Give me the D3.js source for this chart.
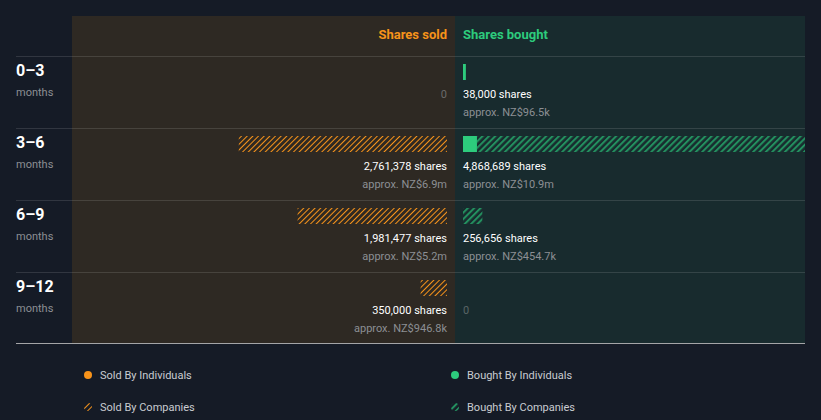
<!DOCTYPE html>
<html>
<head>
<meta charset="utf-8">
<script src="https://cdn.jsdelivr.net/npm/d3@7"></script>
<style>
  body { margin: 0; background: #151b26; }
  text { font-family: Roboto, "Noto Sans", sans-serif; }
</style>
</head>
<body>
<div id="chart"></div>
<script>
// insider trading data
var periods = ["0–3", "3–6", "6–9", "9–12"];
var soldIndividuals = [0, 0, 0, 0];
var soldCompanies = [0, 2761378, 1981477, 350000];
var boughtIndividuals = [38000, 185000, 0, 0];
var boughtCompanies = [0, 4683689, 256656, 0];
var soldValue = ["", "NZ$6.9m", "NZ$5.2m", "NZ$946.8k"];
var boughtValue = ["NZ$96.5k", "NZ$10.9m", "NZ$454.7k", ""];
var legendLabels = ["Sold By Individuals", "Bought By Individuals", "Sold By Companies", "Bought By Companies"];

var width = 821, height = 420;
var orange = "#f7931a", green = "#2dcb7d", greenHatch = "#23905f";

var svg = d3.select("#chart").append("svg")
    .attr("width", width)
    .attr("height", height);

var defs = svg.append("defs");
defs.append("pattern")
    .attr("id", "hatchOrange")
    .attr("patternUnits", "userSpaceOnUse")
    .attr("width", 4).attr("height", 4)
    .attr("patternTransform", "rotate(45)")
  .append("rect")
    .attr("width", 1).attr("height", 4)
    .attr("fill", orange);
defs.append("pattern")
    .attr("id", "hatchGreen")
    .attr("patternUnits", "userSpaceOnUse")
    .attr("width", 4.5).attr("height", 4.5)
    .attr("patternTransform", "rotate(45)")
  .append("rect")
    .attr("width", 2).attr("height", 4.5)
    .attr("fill", greenHatch);

var panelTop = 16, rowTop = 56, rowH = 72, panelBottom = 343;
var mid = 455, soldRight = 447, boughtLeft = 463, panelRight = 805;

defs.append("clipPath").attr("id", "clipBought")
  .append("rect")
    .attr("x", mid).attr("y", panelTop)
    .attr("width", panelRight - mid).attr("height", panelBottom - panelTop);

// panels
svg.append("rect").attr("x", 72).attr("y", panelTop)
    .attr("width", mid - 72).attr("height", panelBottom - panelTop)
    .attr("fill", "#2e2923");
svg.append("rect").attr("x", mid).attr("y", panelTop)
    .attr("width", panelRight - mid).attr("height", panelBottom - panelTop)
    .attr("fill", "#182b2e");

// header
svg.append("text").attr("x", soldRight).attr("y", 39)
    .attr("text-anchor", "end").attr("font-size", "13px").attr("font-weight", "bold")
    .attr("fill", orange).text("Shares sold");
svg.append("text").attr("x", boughtLeft).attr("y", 39)
    .attr("font-size", "13px").attr("font-weight", "bold")
    .attr("fill", green).text("Shares bought");

var x = d3.scaleLinear().domain([0, 5000000]).range([0, 377]);
var y = d3.scaleBand().domain(periods).range([rowTop, rowTop + rowH * periods.length]);
var fmt = d3.format(",");

// separators
periods.forEach(function(p) {
  svg.append("line")
    .attr("x1", 16).attr("x2", panelRight)
    .attr("y1", y(p) + 0.5).attr("y2", y(p) + 0.5)
    .attr("stroke", "#ffffff").attr("stroke-opacity", 0.12);
});
svg.append("line")
    .attr("x1", 16).attr("x2", panelRight)
    .attr("y1", panelBottom + 0.5).attr("y2", panelBottom + 0.5)
    .attr("stroke", "#c8c8c8").attr("stroke-opacity", 0.8);

var barsBought = svg.append("g").attr("clip-path", "url(#clipBought)");

var rows = svg.selectAll(".row")
  .data(periods)
  .enter().append("g")
    .attr("class", "row")
    .attr("transform", function(d) { return "translate(0," + y(d) + ")"; });

rows.append("text").attr("x", 16).attr("y", 20)
    .attr("font-size", "16px").attr("font-weight", "bold")
    .attr("fill", "#ffffff").text(function(d) { return d; });
rows.append("text").attr("x", 16).attr("y", 40)
    .attr("font-size", "11px").attr("fill", "#8c8f94").text("months");

rows.each(function(d, i) {
  var g = d3.select(this);
  var sInd = soldIndividuals[i], sCom = soldCompanies[i];
  var bInd = boughtIndividuals[i], bCom = boughtCompanies[i];
  var sTot = sInd + sCom, bTot = bInd + bCom;

  // sold side, growing leftwards
  if (sInd > 0) g.append("rect")
      .attr("x", soldRight - x(sInd)).attr("y", 8)
      .attr("width", x(sInd)).attr("height", 16).attr("fill", orange);
  if (sCom > 0) g.append("rect")
      .attr("x", soldRight - x(sInd) - x(sCom)).attr("y", 8)
      .attr("width", x(sCom)).attr("height", 16).attr("fill", "url(#hatchOrange)");

  if (sTot > 0) {
    g.append("text").attr("x", soldRight).attr("y", 42).attr("text-anchor", "end")
        .attr("font-size", "11px").attr("fill", "#ffffff").text(fmt(sTot) + " shares");
    g.append("text").attr("x", soldRight).attr("y", 60).attr("text-anchor", "end")
        .attr("font-size", "11px").attr("fill", "#8c8f94").text("approx. " + soldValue[i]);
  } else {
    g.append("text").attr("x", soldRight).attr("y", 42).attr("text-anchor", "end")
        .attr("font-size", "11px").attr("fill", "#6b6b6b").text("0");
  }

  // bought side, growing rightwards (clipped at panel edge)
  if (bInd > 0) barsBought.append("rect")
      .attr("x", boughtLeft).attr("y", y(d) + 8)
      .attr("width", Math.max(2, x(bInd))).attr("height", 16).attr("fill", green);
  if (bCom > 0) barsBought.append("rect")
      .attr("x", boughtLeft + x(bInd)).attr("y", y(d) + 8)
      .attr("width", x(bCom)).attr("height", 16).attr("fill", "url(#hatchGreen)");

  if (bTot > 0) {
    g.append("text").attr("x", boughtLeft).attr("y", 42)
        .attr("font-size", "11px").attr("fill", "#ffffff").text(fmt(bTot) + " shares");
    g.append("text").attr("x", boughtLeft).attr("y", 60)
        .attr("font-size", "11px").attr("fill", "#8c8f94").text("approx. " + boughtValue[i]);
  } else {
    g.append("text").attr("x", boughtLeft).attr("y", 42)
        .attr("font-size", "11px").attr("fill", "#5a6566").text("0");
  }
});

// legend
var legendPos = [[88, 375], [455, 375], [88, 407], [455, 407]];
var legendFill = [orange, green, "url(#hatchOrange)", "url(#hatchGreen)"];
legendLabels.forEach(function(label, i) {
  var p = legendPos[i];
  svg.append("circle").attr("cx", p[0]).attr("cy", p[1]).attr("r", 4)
      .attr("fill", legendFill[i]);
  svg.append("text").attr("x", p[0] + 12).attr("y", p[1] + 4)
      .attr("font-size", "11px").attr("fill", "#c9ccd1").text(label);
});
</script>
</body>
</html>
